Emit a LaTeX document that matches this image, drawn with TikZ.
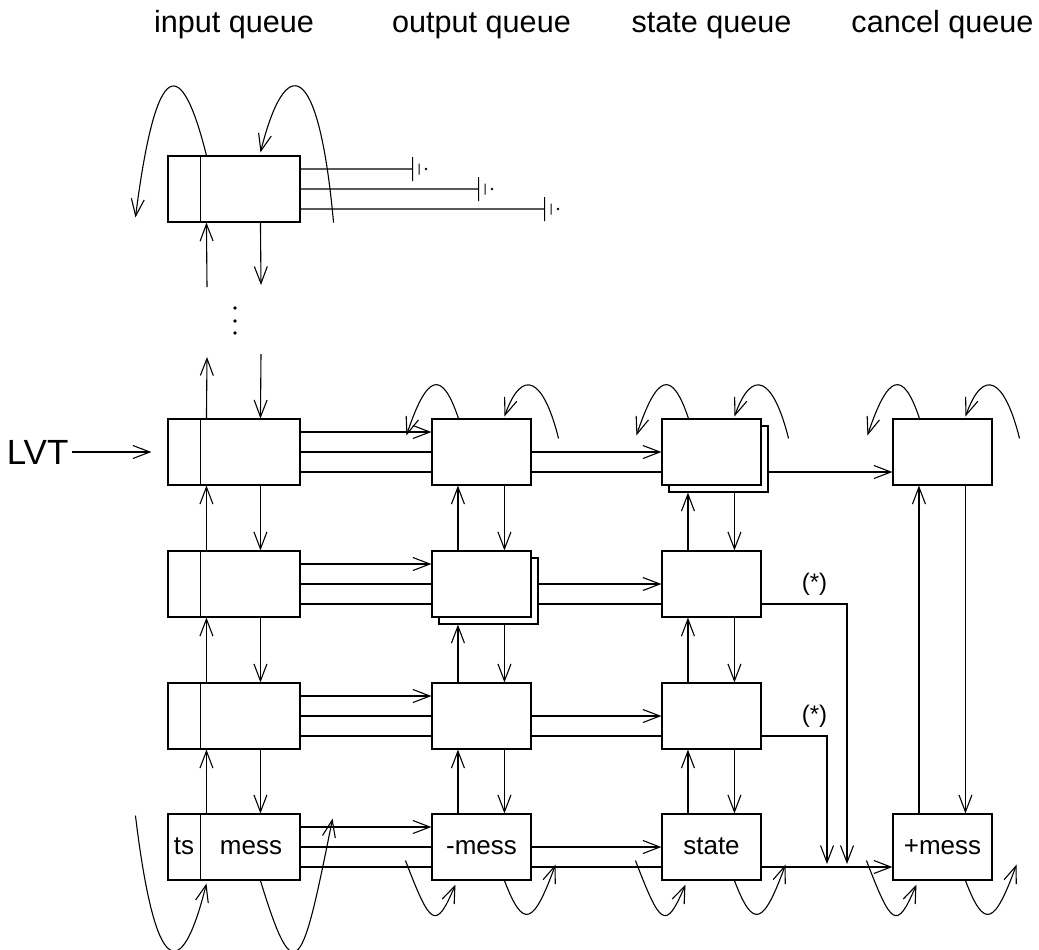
\documentclass[tikz,border=0pt]{standalone}
\usepackage{fontspec}
\setmainfont{Liberation Sans}
\usetikzlibrary{arrows.meta}

\begin{document}
\begin{tikzpicture}[x=0.5pt,y=-0.5pt,line width=0.55pt,
      qin/.style={draw,fill=white,minimum width=66pt,minimum height=33pt,
                  inner sep=0pt},
      qbox/.style={qin,minimum width=49.5pt},
      ar/.style={-{Straight Barb[length=8.5pt,width=6.5pt]}},
      head/.style={font=\fontsize{15.3}{18}\selectfont,anchor=base},
      txt/.style={font=\fontsize{13}{16}\selectfont,text height=7.5pt,
                  text depth=0pt}]
  \useasboundingbox (0,0) rectangle (1039,949);
  % queue titles
  \node[head] (hin)  at (234,32)   {input queue};
  \node[head] (hout) at (481.5,32) {output queue};
  \node[head] (hst)  at (711.5,32) {state queue};
  \node[head] (hcan) at (942.5,32) {cancel queue};

  % input queue, one box per process state
  \node[qin] (inTop) at (234,189) {};
  \foreach \r/\y in {1/452,2/584,3/716,4/847}
    \node[qin] (in\r) at (234,\y) {};
  \foreach \n in {inTop,in1,in2,in3,in4}
    \draw ([xshift=16.5pt]\n.north west) -- ([xshift=16.5pt]\n.south west);
  \node[txt,inner sep=0pt] (ts)   at ([xshift=8.25pt]in4.west)   {ts};
  \node[txt,inner sep=0pt] (mess) at ([xshift=-24.75pt]in4.east) {mess};

  % output, state and cancel queues (stacked boxes get a copy behind)
  \node[qbox] (out2s) at (488.5,591) {};
  \foreach \r/\y in {1/452,2/584,3/716}
    \node[qbox] (out\r) at (481.5,\y) {};
  \node[qbox,txt] (out4) at (481.5,847) {-mess};
  \node[qbox] (st1s) at (718.5,459) {};
  \foreach \r/\y in {1/452,2/584,3/716}
    \node[qbox] (st\r) at (711.5,\y) {};
  \node[qbox,txt] (st4) at (711.5,847) {state};
  \node[qbox] (can1) at (942.5,452) {};
  \node[qbox,txt] (can4) at (942.5,847) {+mess};

  % LVT pointer
  \node[font=\fontsize{17.5}{20}\selectfont,anchor=east,inner sep=1.5pt]
    (lvt) at (72,452) {LVT};
  \draw[ar] (lvt.east) -- ([xshift=-8pt]in1.west);

  % dangling pointers of the oldest entry
  \foreach \k/\len in {10/112,0/178,-10/244}
    \draw ([yshift=\k pt]inTop.east) -- ++(\len,0) ++(0,-12) -- ++(0,24)
          ++(6.5,-17.5) -- ++(0,11) ++(7,-5.5) circle (0.3pt);

  % three pointers per input entry
  \foreach \r/\o in {1/out1,2/out2s,3/out3,4/out4} {
    \coordinate (a\r) at ([yshift=10pt]in\r.east);
    \coordinate (b\r) at (in\r.east);
    \coordinate (c\r) at ([yshift=-10pt]in\r.east);
    \draw[ar] (a\r) -- (a\r -| out\r.west);
    \draw (b\r) -- (b\r -| out\r.west);
    \draw (c\r) -- (c\r -| out\r.west);
    \draw[ar] (b\r -| \o.east) -- (b\r -| st\r.west);
    \draw (c\r -| \o.east) -- (c\r -| st\r.west);
  }
  \draw[ar] (c1 -| st1s.east) -- (c1 -| can1.west);
  \draw[ar] (c4 -| st4.east) -- (c4 -| can4.west);
  \coordinate (k2) at (847,864);
  \coordinate (k3) at (827,864);
  \draw[ar] (c2 -| st2.east) -- (c2 -| k2) -- (k2);
  \draw[ar] (c3 -| st3.east) -- (c3 -| k3) -- (k3);
  \node[font=\fontsize{12}{14}\selectfont] (star2) at ([xshift=26.5pt]st2.east) {(*)};
  \node[font=\fontsize{12}{14}\selectfont] (star3) at ([xshift=26.5pt]st3.east) {(*)};

  % prev/next links in every queue
  \coordinate (inU) at ([xshift=19.5pt]in4.north west);
  \coordinate (inD) at ([xshift=46.5pt]in4.north west);
  \foreach \q in {out,st,can} {
    \coordinate (\q U) at ([xshift=13.25pt]\q4.north west);
    \coordinate (\q D) at ([xshift=36.5pt]\q4.north west);
  }
  \foreach \hi/\lo/\q in {in1/in2/in,in2/in3/in,in3/in4/in,
      out1/out2/out,out2s/out3/out,out3/out4/out,
      st1s/st2/st,st2/st3/st,st3/st4/st,can1/can4/can} {
    \draw[ar] (\q U |- \lo.north) -- (\q U |- \hi.south);
    \draw[ar] (\q D |- \hi.south) -- (\q D |- \lo.north);
  }
  \coordinate (gapU) at (207,357);
  \coordinate (gapD) at (261,354);
  \coordinate (topU) at (207,287);
  \coordinate (topD) at (261,285);
  \draw[ar] (inU |- in1.north) -- (gapU);
  \draw[ar] (gapD) -- (inD |- in1.north);
  \draw[ar] (topU) -- (inU |- inTop.south);
  \draw[ar] (inD |- inTop.south) -- (topD);
  \foreach \y in {308,321,333}
    \fill (235,\y) circle (0.95pt);

  % wrap-around links
  \draw[ar] ([shift={(39,0)}]inTop.north west)
    .. controls +(-25,-100) and +(21,-164) .. ([shift={(-32,62)}]inTop.north west);
  \draw[ar] ([shift={(33,0)}]inTop.south east)
    .. controls +(-15,-165) and +(25,-100) .. ([shift={(93,-3)}]inTop.north west);
  \draw[ar] ([shift={(-32,-65)}]in4.south west)
    .. controls +(20,165) and +(-25,100) .. ([shift={(39,3)}]in4.south west);
  \draw[ar] ([shift={(93,0)}]in4.south west)
    .. controls +(35,115) and +(-30,150) .. ([shift={(32,-62)}]in4.south east);
  \foreach \n in {out1,st1,can1} {
    \draw[ar] ([shift={(27,0)}]\n.north west)
      .. controls +(-17,-51) and +(20,-60) .. ([shift={(-25,17)}]\n.north west);
    \draw[ar] ([shift={(27,20)}]\n.north east)
      .. controls +(-15,-60) and +(18,-50) .. ([shift={(73,-2)}]\n.north west);
  }
  \foreach \n in {out4,st4,can4} {
    \draw[ar] ([shift={(-26,-20)}]\n.south west)
      .. controls +(25,65) and +(-20,47) .. ([shift={(24,4)}]\n.south west);
    \draw[ar] ([shift={(73,0)}]\n.south west)
      .. controls +(19,50) and +(-22,60) .. ([shift={(24,-16)}]\n.south east);
  }
\end{tikzpicture}
\end{document}
